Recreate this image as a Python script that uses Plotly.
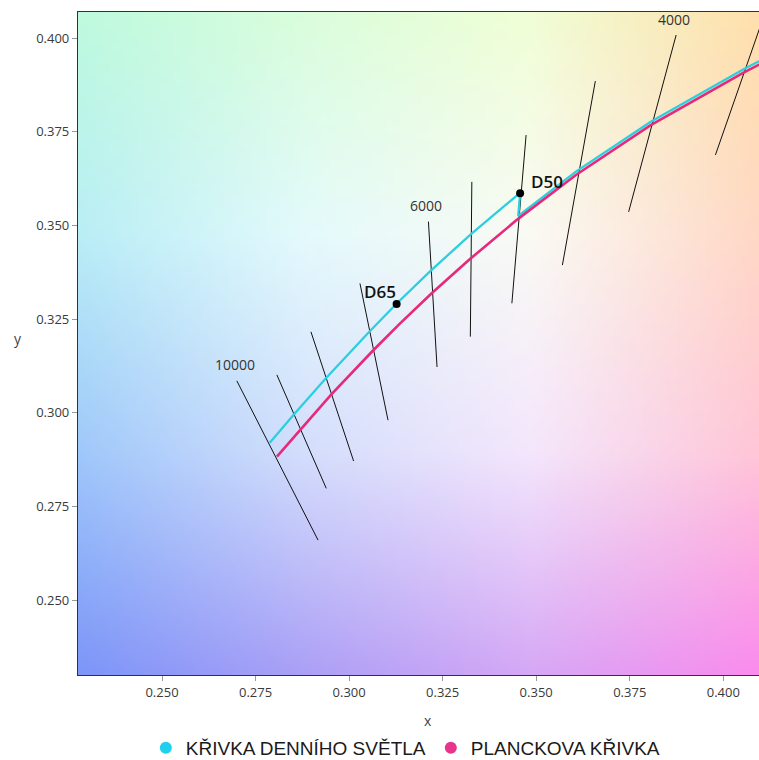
import base64, struct, zlib
import plotly.graph_objects as go

# ---------------- data ----------------
# Daylight locus (10000 K -> 5000 K), then joined to the Planckian locus
day_x = [0.2788, 0.2853, 0.2938, 0.3054, 0.3128, 0.3217, 0.3325, 0.3457, 0.3452, 0.3607, 0.3805, 0.4053, 0.4115]
day_y = [0.2920, 0.2996, 0.3092, 0.3216, 0.3292, 0.3378, 0.3476, 0.3587, 0.3525, 0.3644, 0.3776, 0.3916, 0.3948]

# Planckian locus (10000 K -> ~3400 K)
pl_x = [0.2807, 0.2870, 0.2952, 0.3064, 0.3135, 0.3220, 0.3323, 0.3450, 0.3607, 0.3805, 0.4053, 0.4115]
pl_y = [0.2883, 0.2956, 0.3048, 0.3166, 0.3237, 0.3318, 0.3410, 0.3516, 0.3635, 0.3767, 0.3907, 0.3939]

# Isotherm segments
iso_T = [10000, 9000, 8000, 7000, 6000, 5500, 5000, 4500, 4000, 3500]
iso_x0 = [0.2700, 0.2807, 0.2898, 0.3029, 0.3212, 0.3328, 0.3473, 0.3658, 0.3874, 0.4125]
iso_y0 = [0.3085, 0.3101, 0.3216, 0.3345, 0.3510, 0.3616, 0.3741, 0.3885, 0.4008, 0.4106]
iso_x1 = [0.2917, 0.2939, 0.3012, 0.3104, 0.3235, 0.3324, 0.3435, 0.3570, 0.3747, 0.3979]
iso_y1 = [0.2660, 0.2798, 0.2871, 0.2980, 0.3122, 0.3203, 0.3292, 0.3394, 0.3536, 0.3688]
iso_labels = ["10000", "", "", "", "6000", "", "", "", "4000", ""]

# Standard illuminants
ill_names = ["D65", "D50"]
ill_x = [0.3127, 0.3457]
ill_y = [0.3290, 0.3586]

x_ticks = [0.250, 0.275, 0.300, 0.325, 0.350, 0.375, 0.400]
y_ticks = [0.250, 0.275, 0.300, 0.325, 0.350, 0.375, 0.400]

series_names = ["KŘIVKA DENNÍHO SVĚTLA", "PLANCKOVA KŘIVKA"]

X_RANGE = [0.22755, 0.40954]
Y_RANGE = [0.2300, 0.40694]

# ---------------- background colour field ----------------
bg_grid = [  # rows top -> bottom, columns left -> right
    [(190, 250, 222), (218, 253, 220), (240, 254, 214), (255, 224, 172)],
    [(186, 238, 246), (228, 250, 252), (250, 250, 244), (255, 216, 198)],
    [(160, 200, 250), (212, 222, 252), (244, 230, 252), (255, 198, 216)],
    [(125, 150, 248), (172, 160, 246), (214, 168, 245), (250, 140, 238)],
]


def make_png(w, h):
    rows = []
    gr = len(bg_grid) - 1
    gc = len(bg_grid[0]) - 1
    for j in range(h):
        fy = j / (h - 1) * gr
        r0 = min(int(fy), gr - 1)
        ty = fy - r0
        row = bytearray([0])
        for i in range(w):
            fx = i / (w - 1) * gc
            c0 = min(int(fx), gc - 1)
            tx = fx - c0
            px = []
            for k in range(3):
                a = bg_grid[r0][c0][k] * (1 - tx) + bg_grid[r0][c0 + 1][k] * tx
                b = bg_grid[r0 + 1][c0][k] * (1 - tx) + bg_grid[r0 + 1][c0 + 1][k] * tx
                px.append(int(round(a * (1 - ty) + b * ty)))
            row.extend(px)
        rows.append(bytes(row))
    raw = b"".join(rows)

    def chunk(tag, data):
        c = struct.pack(">I", len(data)) + tag + data
        return c + struct.pack(">I", zlib.crc32(tag + data) & 0xffffffff)

    png = b"\x89PNG\r\n\x1a\n"
    png += chunk(b"IHDR", struct.pack(">IIBBBBB", w, h, 8, 2, 0, 0, 0))
    png += chunk(b"IDAT", zlib.compress(raw, 9))
    png += chunk(b"IEND", b"")
    return "data:image/png;base64," + base64.b64encode(png).decode()


CYAN = "#2ccfe0"
MAGENTA = "#e6297a"

fig = go.Figure()

# isotherms
for i in range(len(iso_T)):
    fig.add_trace(go.Scatter(
        x=[iso_x0[i], iso_x1[i]], y=[iso_y0[i], iso_y1[i]],
        mode="lines", line=dict(color="#111111", width=1),
        showlegend=False, hoverinfo="skip"))

fig.add_trace(go.Scatter(x=day_x, y=day_y, mode="lines",
                         line=dict(color=CYAN, width=2.3),
                         showlegend=False, name=series_names[0]))
fig.add_trace(go.Scatter(x=pl_x, y=pl_y, mode="lines",
                         line=dict(color=MAGENTA, width=2.6),
                         showlegend=False, name=series_names[1]))

fig.add_trace(go.Scatter(x=ill_x, y=ill_y, mode="markers",
                         marker=dict(color="black", size=8),
                         showlegend=False))

# legend entries (circle markers)
fig.add_trace(go.Scatter(x=[None], y=[None], mode="markers",
                         marker=dict(color="#1fd0ee", size=13),
                         name=series_names[0]))
fig.add_trace(go.Scatter(x=[None], y=[None], mode="markers",
                         marker=dict(color="#e8348c", size=13),
                         name=series_names[1]))

annotations = []
for i, lab in enumerate(iso_labels):
    if lab:
        annotations.append(dict(x=iso_x0[i], y=iso_y0[i], xref="x", yref="y",
                                text=lab, showarrow=False, yshift=16, xshift=-2,
                                font=dict(size=14, color="#333333",
                                          family="Open Sans, sans-serif")))
ill_offsets = [(-17, 13), (27, 12)]
for i, name in enumerate(ill_names):
    annotations.append(dict(x=ill_x[i], y=ill_y[i], xref="x", yref="y",
                            text=name, showarrow=False,
                            xshift=ill_offsets[i][0], yshift=ill_offsets[i][1],
                            font=dict(size=17, color="#111111",
                                      family="Open Sans, sans-serif", weight=600)))
annotations.append(dict(x=0.514, y=-0.0679, xref="paper", yref="paper", text="x",
                        xanchor="center", yanchor="middle",
                        showarrow=False, font=dict(size=14, color="#444444")))
annotations.append(dict(x=-0.088, y=0.508, xref="paper", yref="paper", text="y",
                        xanchor="center", yanchor="middle",
                        showarrow=False, font=dict(size=14, color="#444444")))

fig.update_layout(
    width=759, height=760,
    margin=dict(l=78, r=0, t=12, b=85, autoexpand=False),
    paper_bgcolor="white", plot_bgcolor="white",
    font=dict(family="Open Sans, sans-serif"),
    images=[dict(source=make_png(96, 96), xref="x", yref="y",
                 x=X_RANGE[0], y=Y_RANGE[1],
                 sizex=X_RANGE[1] - X_RANGE[0], sizey=Y_RANGE[1] - Y_RANGE[0],
                 xanchor="left", yanchor="top", sizing="stretch", layer="below")],
    xaxis=dict(range=X_RANGE, tickvals=x_ticks, ticktext=[f"{v:.3f}" for v in x_ticks],
               showgrid=False, zeroline=False, showline=True, mirror=True,
               linecolor="#2a3340", linewidth=1.2,
               ticks="outside", ticklen=5, tickcolor="#999999",
               tickfont=dict(size=13, color="#3a3a3a")),
    yaxis=dict(range=Y_RANGE, tickvals=y_ticks, ticktext=[f"{v:.3f}" for v in y_ticks],
               showgrid=False, zeroline=False, showline=True, mirror=False,
               linecolor="#2a3340", linewidth=1.2,
               ticks="outside", ticklen=5, tickcolor="#999999",
               tickfont=dict(size=13, color="#3a3a3a")),
    legend=dict(orientation="h", xref="container", yref="container",
                x=0.534, y=0.016, xanchor="center", yanchor="middle",
                font=dict(size=19, color="#1a1a1a",
                          family="Liberation Sans Narrow, Arial Narrow, Liberation Sans, sans-serif"),
                itemsizing="constant", bgcolor="rgba(0,0,0,0)"),
    annotations=annotations,
)

fig.write_html("out.html", config={"displayModeBar": False},
               post_script="document.body.style.margin='0';document.body.style.overflow='hidden';")
